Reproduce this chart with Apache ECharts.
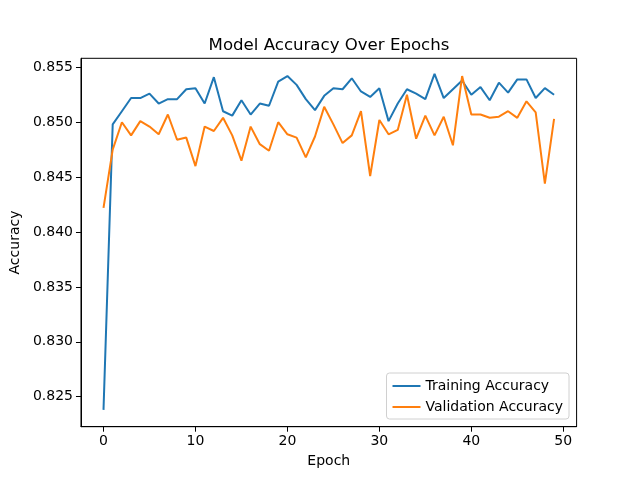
<!DOCTYPE html>
<html>
<head>
<meta charset="utf-8">
<script src="https://cdn.jsdelivr.net/npm/echarts@6/dist/echarts.min.js"></script>
<style>html,body{margin:0;padding:0;background:#fff}#c{width:640px;height:480px}</style>
</head>
<body>
<div id="c"></div>
<script>
var epochs = [];
for (var i = 0; i < 50; i++) epochs.push(i);
var trainAcc = [0.8238,0.8498,0.8510,0.8522,0.8522,0.8526,0.8517,0.8521,0.8521,0.8530,0.8531,0.8517,0.8541,0.8510,0.8506,0.8520,0.8507,0.8517,0.8515,0.8537,0.8542,0.8534,0.8521,0.8511,0.8524,0.8531,0.8530,0.8540,0.8528,0.8523,0.8531,0.8501,0.8517,0.8530,0.8526,0.8521,0.8544,0.8522,0.8530,0.8538,0.8525,0.8532,0.8520,0.8536,0.8527,0.8539,0.8539,0.8522,0.8531,0.8525];
var valAcc = [0.8422,0.8475,0.8500,0.8488,0.8501,0.8496,0.8489,0.8507,0.8484,0.8486,0.8460,0.8496,0.8492,0.8504,0.8488,0.8465,0.8496,0.8480,0.8474,0.8500,0.8489,0.8486,0.8468,0.8487,0.8514,0.8498,0.8481,0.8488,0.8510,0.8451,0.8502,0.8489,0.8493,0.8525,0.8485,0.8506,0.8488,0.8505,0.8479,0.8542,0.8507,0.8507,0.8504,0.8505,0.8510,0.8504,0.8519,0.8509,0.8444,0.8503];
var xTicks = [0,10,20,30,40,50];
var yTicks = [0.825,0.830,0.835,0.840,0.845,0.850,0.855];

function pairs(arr){ return arr.map(function(v,i){ return [epochs[i], v]; }); }

var chart = echarts.init(document.getElementById('c'));
var font = 'DejaVu Sans';
chart.setOption({
  animation: false,
  backgroundColor: '#fff',
  textStyle: { fontFamily: font },
  title: {
    text: 'Model Accuracy Over Epochs',
    left: 324, top: 32, textAlign: 'center',
    textStyle: { fontFamily: font, fontSize: 16.6, fontWeight: 'normal', color: '#000' }
  },
  grid: {
    left: 80, right: 63.4, top: 58.3, bottom: 53.3,
    show: true, borderColor: '#000', borderWidth: 1, backgroundColor: 'transparent'
  },
  legend: {
    orient: 'vertical', right: 71, bottom: 61,
    itemWidth: 28, itemHeight: 2, itemGap: 7,
    padding: [6, 6, 5, 6],
    icon: 'rect',
    borderColor: '#d0d0d0', borderWidth: 1, borderRadius: 3,
    backgroundColor: 'rgba(255,255,255,0.8)',
    textStyle: { fontFamily: font, fontSize: 14, color: '#000' },
    data: ['Training Accuracy', 'Validation Accuracy']
  },
  xAxis: {
    type: 'value', min: -2.45, max: 51.45,
    name: 'Epoch', nameLocation: 'middle', nameGap: 28,
    nameTextStyle: { fontFamily: font, fontSize: 14, color: '#000' },
    axisLine: { show: true, onZero: false, lineStyle: { color: '#000', width: 1 } },
    axisTick: { show: true, length: 5, customValues: xTicks, lineStyle: { color: '#000' } },
    axisLabel: { customValues: xTicks, margin: 8, fontFamily: font, fontSize: 14, color: '#000' },
    splitLine: { show: false }
  },
  yAxis: {
    type: 'value', min: 0.82227, max: 0.85582,
    name: 'Accuracy', nameLocation: 'middle', nameGap: 54,
    nameTextStyle: { fontFamily: font, fontSize: 14, color: '#000' },
    axisLine: { show: true, onZero: false, lineStyle: { color: '#000', width: 1 } },
    axisTick: { show: true, length: 5, customValues: yTicks, lineStyle: { color: '#000' } },
    axisLabel: { customValues: yTicks, margin: 8, fontFamily: font, fontSize: 14, color: '#000',
      formatter: function(v){ return v.toFixed(3); } },
    splitLine: { show: false }
  },
  series: [
    { name: 'Training Accuracy', type: 'line', data: pairs(trainAcc), symbol: 'none',
      lineStyle: { color: '#1f77b4', width: 2 }, itemStyle: { color: '#1f77b4' } },
    { name: 'Validation Accuracy', type: 'line', data: pairs(valAcc), symbol: 'none',
      lineStyle: { color: '#ff7f0e', width: 2 }, itemStyle: { color: '#ff7f0e' } }
  ]
});
</script>
</body>
</html>
